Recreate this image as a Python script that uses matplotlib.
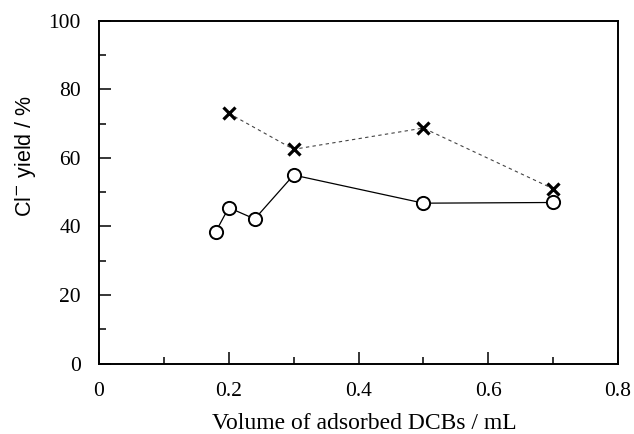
import matplotlib
matplotlib.use("Agg")
import matplotlib.pyplot as plt
from matplotlib.ticker import MultipleLocator

# circles (solid line)
vol_circle = [0.18, 0.20, 0.24, 0.30, 0.50, 0.70]
yield_circle = [38.5, 45.5, 42.2, 55.0, 46.8, 47.0]

# crosses (dashed line)
vol_cross = [0.20, 0.30, 0.50, 0.70]
yield_cross = [73.0, 62.5, 68.7, 51.0]

serif = "Liberation Serif"

fig = plt.figure(figsize=(6.34, 4.34), dpi=100)
ax = fig.add_axes([99/634, 1 - 363.7/434, (618 - 99)/634, (363.7 - 20.7)/434])

ax.plot(vol_circle, yield_circle, color="black", lw=0.9, marker="o", ms=9.5,
        mfc="white", mec="black", mew=1.4)
ax.plot(vol_cross, yield_cross, color="#444444", lw=0.8, ls=(0, (3, 3)),
        marker="x", ms=9, mec="black", mew=2.3)

ax.set_xlim(0, 0.8)
ax.set_ylim(0, 100)
ax.xaxis.set_major_locator(MultipleLocator(0.2))
ax.xaxis.set_minor_locator(MultipleLocator(0.1))
ax.yaxis.set_major_locator(MultipleLocator(20))
ax.yaxis.set_minor_locator(MultipleLocator(10))
ax.set_xticks([0, 0.2, 0.4, 0.6, 0.8])
ax.set_xticklabels(["0", "0.2", "0.4", "0.6", "0.8"])

ax.tick_params(which="both", direction="in", top=False, right=False, width=1.1)
ax.tick_params(which="major", length=8.6)
ax.tick_params(which="minor", length=5)
ax.tick_params(axis="x", which="major", pad=13)
ax.tick_params(axis="y", which="major", pad=13)
for lab in ax.get_xticklabels() + ax.get_yticklabels():
    lab.set_fontfamily(serif)
    lab.set_fontsize(15.5)
for s in ax.spines.values():
    s.set_linewidth(1.4)

fig.text(364/634, 1 - 429/434, "Volume of adsorbed DCBs / mL", ha="center",
         va="baseline", fontfamily=serif, fontsize=17)
fig.text(25/634, 1 - 156/434, "Cl$^{-}$ yield / %", rotation=90, ha="center",
         va="center", fontfamily="Liberation Sans", fontsize=15.5)

fig.savefig("out.png", dpi=100)
